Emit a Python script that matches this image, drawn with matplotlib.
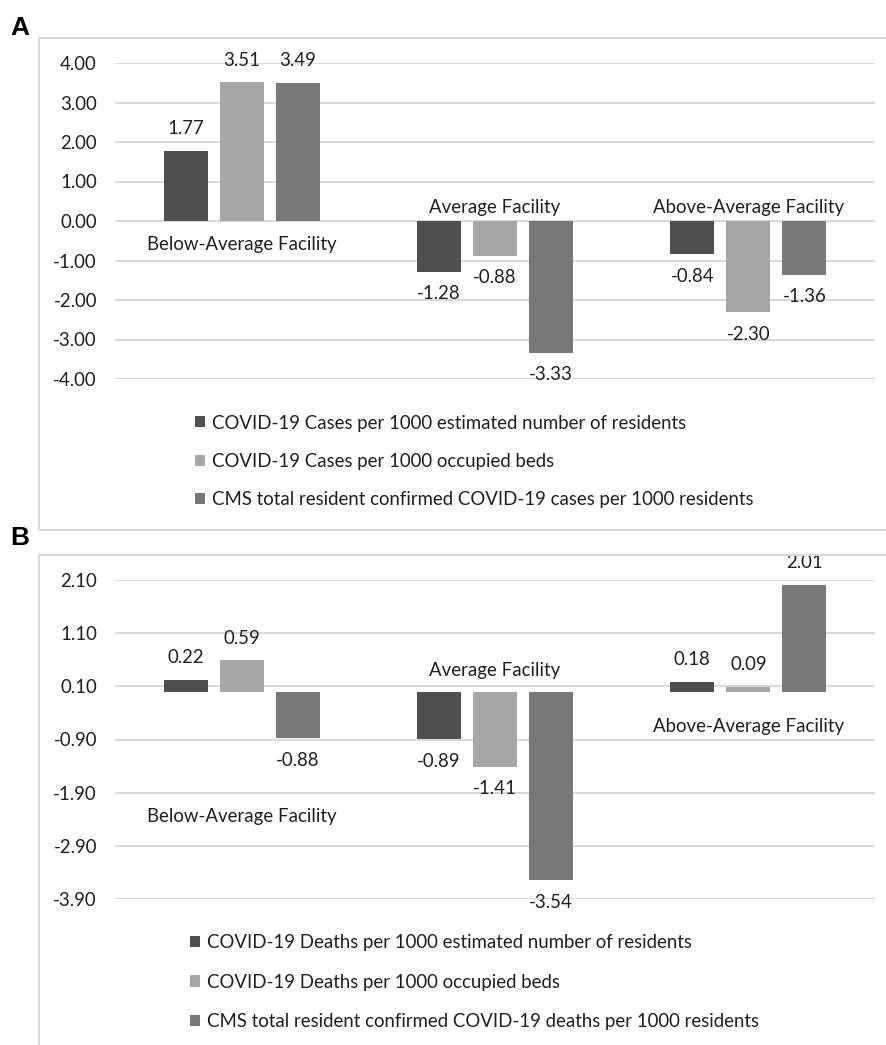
import numpy as np
import matplotlib.pyplot as plt
from matplotlib.patches import Rectangle

plt.rcParams['font.family'] = ['Lato', 'DejaVu Sans']

categories = ['Below-Average Facility', 'Average Facility', 'Above-Average Facility']

# panel A - cases
cases_est = [1.77, -1.28, -0.84]
cases_beds = [3.51, -0.88, -2.30]
cases_cms = [3.49, -3.33, -1.36]
labels_a = ['COVID-19 Cases per 1000 estimated number of residents',
            'COVID-19 Cases per 1000 occupied beds',
            'CMS total resident confirmed COVID-19 cases per 1000 residents']
ticks_a = [4.0, 3.0, 2.0, 1.0, 0.0, -1.0, -2.0, -3.0, -4.0]

# panel B - deaths
deaths_est = [0.22, -0.89, 0.18]
deaths_beds = [0.59, -1.41, 0.09]
deaths_cms = [-0.88, -3.54, 2.01]
labels_b = ['COVID-19 Deaths per 1000 estimated number of residents',
            'COVID-19 Deaths per 1000 occupied beds',
            'CMS total resident confirmed COVID-19 deaths per 1000 residents']
ticks_b = [2.10, 1.10, 0.10, -0.90, -1.90, -2.90, -3.90]

colors = ['#4f4f4f', '#a6a6a6', '#787878']
grid_col = '#d9d9d9'
txt_col = '#1f1f1f'
fs = 13.4

fig = plt.figure(figsize=(8.87, 10.45), dpi=100)

# panel frames
fig.patches.append(Rectangle((39/887, 1-530/1045), 1, (530-38)/1045, transform=fig.transFigure,
                             fill=False, edgecolor=grid_col, lw=1.5))
fig.patches.append(Rectangle((39/887, -0.1), 1, 0.1+(1045-555)/1045, transform=fig.transFigure,
                             fill=False, edgecolor=grid_col, lw=1.5))
fig.text(10/887, 1-28/1045, 'A', family='Liberation Sans', weight='bold', fontsize=19, va='center')
fig.text(10/887, 1-538/1045, 'B', family='Liberation Sans', weight='bold', fontsize=19, va='center')


def panel(ax, series, labels, ticks, cat_y):
    x = np.arange(len(categories))
    w = 0.174
    step = 0.221
    for i, (vals, lab) in enumerate(zip(series, labels)):
        bars = ax.bar(x + (i-1)*step, vals, w, color=colors[i], label=lab, zorder=3)
        for b, v in zip(bars, vals):
            off = 16 if v >= 0 else -16
            ax.annotate(f'{v:.2f}', (b.get_x() + b.get_width()/2, v), xytext=(0, off),
                        textcoords='offset points', ha='center', va='center', fontsize=fs,
                        color=txt_col)
    for xi, (c, cy) in enumerate(zip(categories, cat_y)):
        ax.text(xi, cy, c, ha='center', va='center', fontsize=fs, color=txt_col)
    ax.set_xlim(-0.5, 2.5)
    ax.set_ylim(min(ticks), max(ticks))
    ax.set_yticks(ticks)
    ax.set_yticklabels([f'{t:.2f}' for t in ticks])
    ax.set_xticks([])
    ax.tick_params(axis='y', length=0, pad=13, labelsize=fs, labelcolor=txt_col)
    for s in ax.spines.values():
        s.set_visible(False)
    ax.grid(axis='y', color=grid_col, lw=1.5, zorder=0)
    ax.set_axisbelow(True)


ax_a = fig.add_axes([115/887, 1-379/1045, 760/887, 316/1045])
panel(ax_a, [cases_est, cases_beds, cases_cms], labels_a, ticks_a, [-0.6, 0.35, 0.35])
leg = ax_a.legend(loc='upper left', bbox_to_anchor=(195/887, 1-414.5/1045), bbox_transform=fig.transFigure,
                  frameon=False, fontsize=fs, handlelength=0.54, handleheight=0.54, handletextpad=0.38,
                  labelspacing=1.14, borderpad=0, borderaxespad=0)
for t in leg.get_texts():
    t.set_color(txt_col)

ax_b = fig.add_axes([115/887, 1-899/1045, 760/887, 319/1045])
panel(ax_b, [deaths_est, deaths_beds, deaths_cms], labels_b, ticks_b, [-2.35, 0.39, -0.66])
leg = ax_b.legend(loc='upper left', bbox_to_anchor=(190/887, 1-934.3/1045), bbox_transform=fig.transFigure,
                  frameon=False, fontsize=fs, handlelength=0.54, handleheight=0.54, handletextpad=0.38,
                  labelspacing=1.2, borderpad=0, borderaxespad=0)
for t in leg.get_texts():
    t.set_color(txt_col)

fig.savefig('out.png', dpi=100)
